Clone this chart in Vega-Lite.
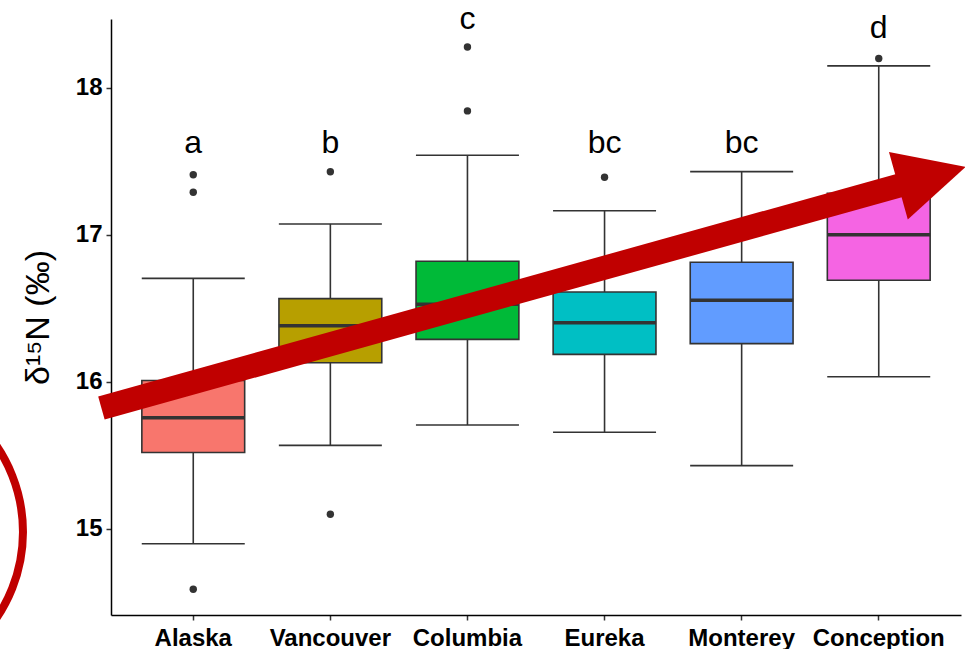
{
  "$schema": "https://vega.github.io/schema/vega-lite/v6.json",
  "autosize": "none",
  "width": 850,
  "height": 596,
  "padding": {"left": 111, "top": 19, "right": 4, "bottom": 34},
  "background": "white",
  "config": {
    "view": {"stroke": null},
    "font": "Liberation Sans",
    "axis": {"grid": false, "domainColor": "black", "domainWidth": 1.5, "tickColor": "#333333", "tickWidth": 1.5, "tickSize": 5, "labelColor": "black", "labelFont": "Liberation Sans", "labelFontWeight": "bold", "labelFontSize": 24}
  },
  "datasets": {
    "boxes": [
      {"site": "Alaska", "lo": 14.90, "q1": 15.52, "med": 15.757, "q3": 16.01, "hi": 16.705, "letter": "a", "ly": 17.558},
      {"site": "Vancouver", "lo": 15.569, "q1": 16.131, "med": 16.383, "q3": 16.567, "hi": 17.075, "letter": "b", "ly": 17.558},
      {"site": "Columbia", "lo": 15.707, "q1": 16.29, "med": 16.529, "q3": 16.821, "hi": 17.542, "letter": "c", "ly": 18.40},
      {"site": "Eureka", "lo": 15.658, "q1": 16.188, "med": 16.403, "q3": 16.612, "hi": 17.165, "letter": "bc", "ly": 17.558},
      {"site": "Monterey", "lo": 15.431, "q1": 16.261, "med": 16.556, "q3": 16.814, "hi": 17.431, "letter": "bc", "ly": 17.558},
      {"site": "Conception", "lo": 16.036, "q1": 16.692, "med": 17.002, "q3": 17.284, "hi": 18.15, "letter": "d", "ly": 18.34}
    ],
    "outliers": [
      {"site": "Alaska", "value": 17.41},
      {"site": "Alaska", "value": 17.29},
      {"site": "Alaska", "value": 14.59},
      {"site": "Vancouver", "value": 17.43},
      {"site": "Vancouver", "value": 15.10},
      {"site": "Columbia", "value": 18.279},
      {"site": "Columbia", "value": 17.844},
      {"site": "Eureka", "value": 17.393},
      {"site": "Conception", "value": 18.20}
    ],
    "arrowShaft": [
      {"u": 0.33, "v": 15.823},
      {"u": 6.354, "v": 17.389}
    ],
    "arrowHead": [
      {"u": 6.635, "v": 17.463}
    ],
    "ring": [
      {"u": -1.358, "v": 14.98}
    ]
  },
  "resolve": {"scale": {"x": "independent"}, "axis": {"x": "independent"}},
  "layer": [
    {
      "layer": [
        {
          "data": {"name": "boxes"},
          "mark": {"type": "rule", "color": "#333333", "strokeWidth": 1.6},
          "encoding": {
            "x": {"field": "site", "type": "nominal", "sort": ["Alaska", "Vancouver", "Columbia", "Eureka", "Monterey", "Conception"], "scale": {"paddingInner": 0, "paddingOuter": 0.1},
                  "axis": {"title": null, "labelAngle": 0, "labelPadding": 6, "domainWidth": 1.5}},
            "y": {"field": "lo", "type": "quantitative", "scale": {"domain": [14.415, 18.469], "nice": false, "zero": false},
                  "axis": {"values": [15, 16, 17, 18], "format": "d", "title": "δ¹⁵N (‰)", "titleFontSize": 34, "titleFontWeight": "normal", "titleColor": "black", "titlePadding": 20, "labelPadding": 4}},
            "y2": {"field": "hi"}
          }
        },
        {
          "data": {"name": "boxes"},
          "mark": {"type": "tick", "color": "#333333", "size": 103, "thickness": 1.6, "opacity": 1},
          "encoding": {
            "x": {"field": "site", "type": "nominal", "sort": ["Alaska", "Vancouver", "Columbia", "Eureka", "Monterey", "Conception"]},
            "y": {"field": "lo", "type": "quantitative"}
          }
        },
        {
          "data": {"name": "boxes"},
          "mark": {"type": "tick", "color": "#333333", "size": 103, "thickness": 1.6, "opacity": 1},
          "encoding": {
            "x": {"field": "site", "type": "nominal", "sort": ["Alaska", "Vancouver", "Columbia", "Eureka", "Monterey", "Conception"]},
            "y": {"field": "hi", "type": "quantitative"}
          }
        },
        {
          "data": {"name": "boxes"},
          "mark": {"type": "bar", "stroke": "#333333", "strokeWidth": 1.6, "width": {"band": 0.75}, "opacity": 1},
          "encoding": {
            "x": {"field": "site", "type": "nominal", "sort": ["Alaska", "Vancouver", "Columbia", "Eureka", "Monterey", "Conception"]},
            "y": {"field": "q1", "type": "quantitative"},
            "y2": {"field": "q3"},
            "fill": {"field": "site", "type": "nominal", "legend": null,
                     "scale": {"domain": ["Alaska", "Vancouver", "Columbia", "Eureka", "Monterey", "Conception"],
                               "range": ["#F8766D", "#B79F00", "#00BA38", "#00BFC4", "#619CFF", "#F564E3"]}}
          }
        },
        {
          "data": {"name": "boxes"},
          "mark": {"type": "tick", "color": "#333333", "size": 103, "thickness": 3.5, "opacity": 1},
          "encoding": {
            "x": {"field": "site", "type": "nominal", "sort": ["Alaska", "Vancouver", "Columbia", "Eureka", "Monterey", "Conception"]},
            "y": {"field": "med", "type": "quantitative"}
          }
        },
        {
          "data": {"name": "boxes"},
          "mark": {"type": "text", "fontSize": 32, "font": "Liberation Sans", "color": "black", "align": "center", "baseline": "alphabetic"},
          "encoding": {
            "x": {"field": "site", "type": "nominal", "sort": ["Alaska", "Vancouver", "Columbia", "Eureka", "Monterey", "Conception"]},
            "y": {"field": "ly", "type": "quantitative"},
            "text": {"field": "letter"}
          }
        },
        {
          "data": {"name": "outliers"},
          "mark": {"type": "point", "filled": true, "color": "#333333", "size": 55, "opacity": 1},
          "encoding": {
            "x": {"field": "site", "type": "nominal", "sort": ["Alaska", "Vancouver", "Columbia", "Eureka", "Monterey", "Conception"]},
            "y": {"field": "value", "type": "quantitative"}
          }
        }
      ]
    },
    {
      "data": {"name": "arrowShaft"},
      "mark": {"type": "line", "color": "#C00000", "strokeWidth": 24, "strokeCap": "butt"},
      "encoding": {
        "x": {"field": "u", "type": "quantitative", "scale": {"domain": [0.4, 6.6], "nice": false, "zero": false}, "axis": null},
        "y": {"field": "v", "type": "quantitative"}
      }
    },
    {
      "data": {"name": "arrowHead"},
      "mark": {"type": "point", "shape": "M0,0L-2,-1L-2,1Z", "filled": true, "color": "#C00000", "opacity": 1, "size": 4900, "angle": -15.6},
      "encoding": {
        "x": {"field": "u", "type": "quantitative", "scale": {"domain": [0.4, 6.6], "nice": false, "zero": false}, "axis": null},
        "y": {"field": "v", "type": "quantitative"}
      }
    },
    {
      "data": {"name": "ring"},
      "mark": {"type": "point", "shape": "circle", "filled": false, "stroke": "#C00000", "strokeWidth": 8, "opacity": 1, "size": 93636},
      "encoding": {
        "x": {"field": "u", "type": "quantitative", "scale": {"domain": [0.4, 6.6], "nice": false, "zero": false}, "axis": null},
        "y": {"field": "v", "type": "quantitative"}
      }
    }
  ]
}
